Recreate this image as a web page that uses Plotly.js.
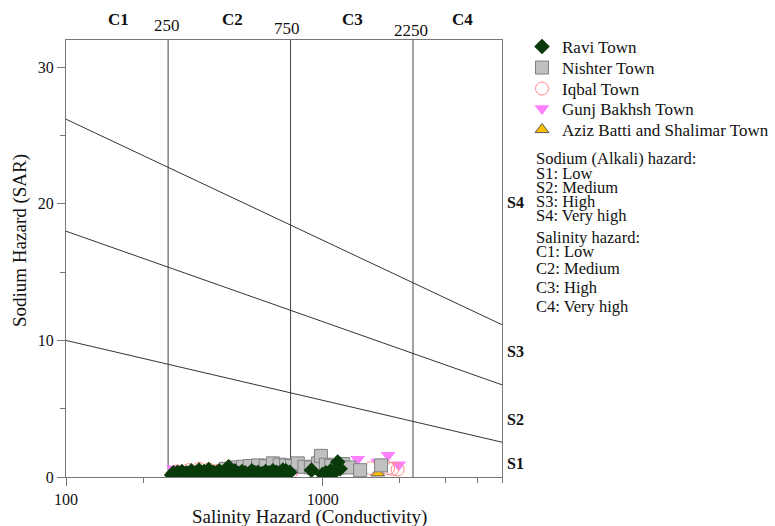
<!DOCTYPE html>
<html>
<head>
<meta charset="utf-8">
<script src="https://cdn.plot.ly/plotly-3.0.1.min.js"></script>
<style>html,body{margin:0;padding:0;background:#fff;}#chart{width:775px;height:526px;}</style>
</head>
<body>
<div id="chart"></div>
<script>
// ---- Data ----
var raviEC  = [258,262,268,272,278,283,290,295,302,308,315,322,330,338,345,352,360,368,375,385,395,405,418,430,440,455,470,485,500,515,530,545,560,580,600,620,640,660,680,700,720,745,905,1000,1030,1075,1105,1145,1170];
var raviSAR = [0.15,0.3,0.1,0.35,0.2,0.4,0.15,0.3,0.25,0.45,0.2,0.35,0.5,0.25,0.4,0.3,0.55,0.2,0.35,0.3,0.45,0.25,0.4,0.75,0.3,0.45,0.25,0.4,0.3,0.2,0.45,0.3,0.35,0.25,0.4,0.3,0.45,0.35,0.3,0.5,0.45,0.35,0.5,0.2,0.3,0.45,0.3,1.1,0.6];

var nishterEC  = [420,460,490,520,560,600,640,680,720,760,800,850,900,960,985,1030,1080,1150,1200,1270,1400,1690];
var nishterSAR = [0.6,0.7,0.75,0.8,0.85,0.8,1.0,0.9,0.85,0.8,1.0,0.75,0.7,1.0,1.55,0.9,0.8,0.7,0.95,0.7,0.5,0.85];

var iqbalEC  = [270,300,330,360,390,420,480,560,650,750,1540,1800,1870,1960];
var iqbalSAR = [0.4,0.5,0.6,0.55,0.45,0.6,0.3,0.2,0.4,0.3,0.65,0.65,0.6,0.55];

var gunjEC  = [262,275,290,330,380,430,470,520,580,650,720,800,1050,1370,1640,1800,1980];
var gunjSAR = [0.6,0.55,0.5,0.6,0.55,0.7,0.6,0.7,0.65,0.75,0.7,0.6,0.8,1.3,1.1,1.6,0.9];

var azizEC  = [330,470,510,600,690,1640];
var azizSAR = [0.05,0.1,0.1,0.08,0.1,0.3];

// Classification boundaries
var ecBreaks = [250, 750, 2250];
var sarRange = [0, 32];
var ecRange = [100, 5000];
var lineEC = [100, 5000];
var lineS1S2 = [10.0, 2.55];
var lineS2S3 = [18.0, 6.75];
var lineS3S4 = [26.2, 11.15];

var cLabels = ['C1','C2','C3','C4'];
var cLabelEC = [160, 445, 1310, 3520];
var sLabels = ['S1','S2','S3','S4'];
var sLabelSAR = [1.0, 4.2, 9.2, 20.1];
var xTickVals = [100, 1000];
var xMinorVals = [200, 2000, 3000, 4000, 5000];
var notes = ['Sodium (Alkali) hazard:','S1: Low','S2: Medium','S3: High','S4: Very high',
             'Salinity hazard:','C1: Low','C2: Medium','C3: High','C4: Very high'];
var notePx = [158,173,187,201,215,237,251,268,287,307];

// ---- Layout helpers ----
var FONT = 'Liberation Serif';
var L = 66, R = 502, T = 40, B = 477;
function py(p){ return (B - p) / (B - T); }
function px(p){ return (p - L) / (R - L); }

var vx = [], vy = [];
ecBreaks.forEach(function(e){ vx.push(e, e, null); vy.push(sarRange[0], sarRange[1], null); });
var bx = [], by = [];
[lineS1S2, lineS2S3, lineS3S4].forEach(function(s){ bx.push(lineEC[0], lineEC[1], null); by.push(s[0], s[1], null); });

var traces = [
  {x: vx, y: vy, mode: 'lines', line: {color: '#444', width: 1}, showlegend: false, hoverinfo: 'skip'},
  {x: bx, y: by, mode: 'lines', line: {color: '#333', width: 1}, showlegend: false, hoverinfo: 'skip'},
  {x: azizEC, y: azizSAR, name: 'Aziz Batti and Shalimar Town', mode: 'markers', legend: 'legend5',
   marker: {symbol: 'triangle-up', size: 12, color: '#ffc000', line: {color: '#555', width: 1}}},
  {x: gunjEC, y: gunjSAR, name: 'Gunj Bakhsh Town', mode: 'markers', legend: 'legend4',
   marker: {symbol: 'triangle-down', size: 13, color: '#ff80ff', line: {width: 0}}},
  {x: iqbalEC, y: iqbalSAR, name: 'Iqbal Town', mode: 'markers', legend: 'legend3',
   marker: {symbol: 'circle-open', size: 13, color: '#ff8a8a', line: {width: 1}}},
  {x: nishterEC, y: nishterSAR, name: 'Nishter Town', mode: 'markers', legend: 'legend2',
   marker: {symbol: 'square', size: 13, color: '#c0c0c0', line: {color: '#808080', width: 1}}},
  {x: raviEC, y: raviSAR, name: 'Ravi Town', mode: 'markers', legend: 'legend',
   marker: {symbol: 'diamond', size: 12, color: '#0a3a0a', line: {color: '#0a3a0a', width: 0}}}
];

var ann = [];
cLabels.forEach(function(t, i){
  ann.push({x: Math.log10(cLabelEC[i]), xref: 'x', y: py(20), yref: 'paper', text: '<b>' + t + '</b>',
    showarrow: false, font: {family: FONT, size: 17, color: '#111'}, xanchor: 'center', yanchor: 'middle'});
});
var brkPx = [25, 28, 30], brkShift = [-1, -4, -2];
ecBreaks.forEach(function(e, i){
  ann.push({x: Math.log10(e), xref: 'x', y: py(brkPx[i]), yref: 'paper', text: String(e), xshift: brkShift[i],
    showarrow: false, font: {family: FONT, size: 17, color: '#111'}, xanchor: 'center', yanchor: 'middle'});
});
sLabels.forEach(function(t, i){
  ann.push({x: px(505), xref: 'paper', y: sLabelSAR[i], yref: 'y', text: '<b>' + t + '</b>',
    showarrow: false, font: {family: FONT, size: 16, color: '#111'}, xanchor: 'left', yanchor: 'middle'});
});
notes.forEach(function(t, i){
  ann.push({x: px(534), xref: 'paper', y: py(notePx[i]), yref: 'paper', text: t,
    showarrow: false, font: {family: FONT, size: 16.5, color: '#111'}, xanchor: 'left', yanchor: 'middle'});
});
ann.push({x: px(309), xref: 'paper', y: py(517), yref: 'paper', text: 'Salinity Hazard (Conductivity)',
  showarrow: false, font: {family: FONT, size: 19, color: '#111'}, xanchor: 'center', yanchor: 'middle'});
ann.push({x: px(20), xref: 'paper', y: py(241), yref: 'paper', text: 'Sodium Hazard (SAR)', textangle: -90,
  showarrow: false, font: {family: FONT, size: 19, color: '#111'}, xanchor: 'center', yanchor: 'middle'});

function legendAt(topPx){
  return {x: px(522), y: py(topPx), xanchor: 'left', yanchor: 'top',
          bgcolor: 'rgba(0,0,0,0)', font: {family: FONT, size: 17, color: '#111'}};
}

var layout = {
  width: 775, height: 526,
  margin: {l: L, r: 775 - R, t: T, b: 526 - B, pad: 0, autoexpand: false},
  paper_bgcolor: '#fff', plot_bgcolor: '#fff',
  font: {family: FONT, size: 16, color: '#111'},
  showlegend: true,
  legend: legendAt(29),
  legend2: legendAt(50),
  legend3: legendAt(71),
  legend4: legendAt(91),
  legend5: legendAt(112),
  xaxis: {type: 'log', range: [Math.log10(ecRange[0]), Math.log10(ecRange[1])],
          showgrid: false, zeroline: false, showline: true, mirror: true, linecolor: '#777', linewidth: 1,
          ticks: 'outside', ticklen: 8, tickcolor: '#777', tickmode: 'array', tickvals: xTickVals,
          ticktext: xTickVals.map(String), tickfont: {family: FONT, size: 16, color: '#111'},
          minor: {tickmode: 'array', tickvals: xMinorVals, ticks: 'outside', ticklen: 5, tickcolor: '#777', showgrid: false}},
  yaxis: {range: sarRange, showgrid: false, zeroline: false, showline: true, mirror: true, linecolor: '#777', linewidth: 1,
          ticks: 'outside', ticklen: 8, tickcolor: '#777', tickmode: 'array', tickvals: [0, 10, 20, 30],
          tickfont: {family: FONT, size: 16, color: '#111'},
          minor: {tickmode: 'array', tickvals: [5, 15, 25], ticks: 'outside', ticklen: 5, tickcolor: '#777', showgrid: false}},
  annotations: ann
};

Plotly.newPlot('chart', traces, layout, {displayModeBar: false, staticPlot: true});
</script>
</body>
</html>
